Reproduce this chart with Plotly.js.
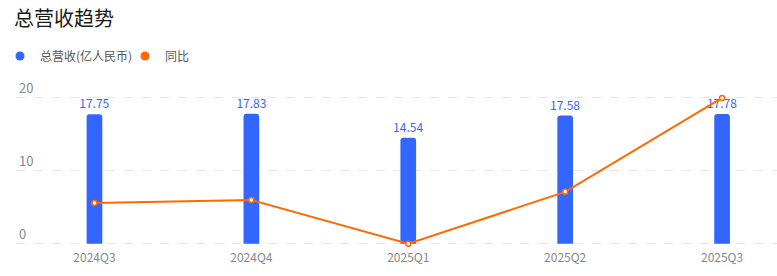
<!DOCTYPE html>
<html><head><meta charset="utf-8">
<script src="https://cdn.plot.ly/plotly-3.0.1.min.js"></script>
<style>html,body{margin:0;padding:0;background:#fff}</style>
</head><body><div id="chart" style="width:777px;height:276px"></div>
<script>
const quarters = ["2024Q3","2024Q4","2025Q1","2025Q2","2025Q3"];
const revenue = [17.75, 17.83, 14.54, 17.58, 17.78];
const yoy = [2.0, 2.5, -5.0, 3.9, 20.0];
const yTicks = [0, 10, 20];

const font = '"Noto Sans CJK SC", "Noto Sans", sans-serif';
const blue = '#3366FF', orange = '#FF6A00';

const traces = [
  {type:'bar', x:quarters, y:revenue, name:'总营收(亿人民币)', showlegend:false,
   marker:{color:blue, cornerradius:3}, width:0.1,
   text:revenue.map(v=>v.toFixed(2)), textposition:'outside', cliponaxis:false, constraintext:'none',
   textfont:{color:blue, size:12, family:font}, hoverinfo:'skip'},
  {type:'scatter', mode:'lines+markers', x:quarters, y:yoy, yaxis:'y2', name:'同比', showlegend:false,
   line:{color:orange, width:2}, cliponaxis:false,
   marker:{symbol:'circle', size:5, color:'#fff', line:{color:orange, width:1.5}}},
  {type:'scatter', mode:'markers', x:[null], y:[null], name:'总营收(亿人民币)',
   marker:{symbol:'circle', size:9, color:blue}},
  {type:'scatter', mode:'markers', x:[null], y:[null], name:'同比',
   marker:{symbol:'circle', size:9, color:orange}}
];

const layout = {
  width:777, height:276,
  margin:{l:16, r:0, t:76, b:30},
  paper_bgcolor:'#fff', plot_bgcolor:'#fff',
  font:{family:font, color:'#888'},
  title:{text:'总营收趋势', x:14/777, xanchor:'left', xref:'container', y:1-19/276, yanchor:'middle', yref:'container',
         font:{size:20, color:'#1a1a1a', family:font}},
  showlegend:true,
  legend:{orientation:'h', xref:'container', yref:'container', x:-0.005, xanchor:'left', y:1-56/276, yanchor:'middle',
          font:{size:12, color:'#555', family:font}, itemwidth:20, itemclick:false,
          entrywidth:80, entrywidthmode:'pixels'},
  bargap:0.5,
  xaxis:{type:'category', range:[-0.5, 4.35], showgrid:false, zeroline:false, showline:false, ticks:'',
         tickfont:{size:12, color:'#888', family:font}, ticklabelstandoff:3, fixedrange:true},
  yaxis:{range:[-0.3,23], tickvals:yTicks, showgrid:true, gridcolor:'#e6e6e6', griddash:'dash', gridwidth:1,
         zeroline:false, showline:false, ticks:'', ticklabelposition:'inside top',
         tickfont:{size:13, color:'#888', family:font}},
  yaxis2:{overlaying:'y', range:[-5.375,23.75], visible:false, showgrid:false, zeroline:false}
};
Plotly.newPlot('chart', traces, layout, {displayModeBar:false, staticPlot:true});
</script></body></html>
